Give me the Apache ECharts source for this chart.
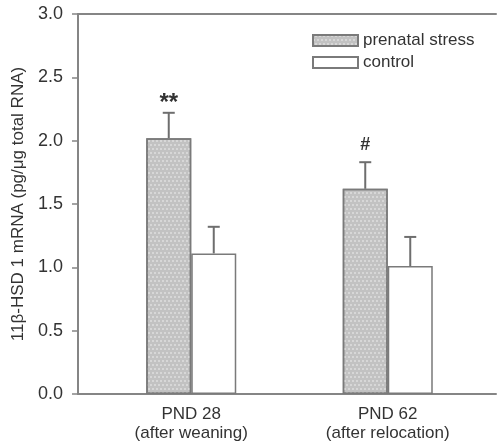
<!DOCTYPE html>
<html>
<head>
<meta charset="utf-8">
<script src="https://cdn.jsdelivr.net/npm/echarts@6/dist/echarts.min.js"></script>
<style>html,body{margin:0;padding:0;background:#fff}#c{width:500px;height:446px}</style>
</head>
<body>
<div id="c"></div>
<script>
// Data
const categories = ['PND 28\n(after weaning)', 'PND 62\n(after relocation)'];
const seriesNames = ['prenatal stress', 'control'];
const prenatalMean = [2.02, 1.62];
const prenatalErr = [0.20, 0.21];
const controlMean = [1.11, 1.01];
const controlErr = [0.21, 0.23];
const prenatalMarks = ['**', '#'];
const yTicks = [0, 0.5, 1.0, 1.5, 2.0, 2.5, 3.0];
const yAxisName = '11\u03b2-HSD 1 mRNA (pg/\u03bcg total RNA)';

const BAR_W = 45;
const axisColor = '#858585';
const font = 'Liberation Sans, Arial, sans-serif';

const chart = echarts.init(document.getElementById('c'), null, {renderer: 'canvas'});

function errSeries(name, means, errs, side, marks) {
  return {
    type: 'custom',
    name: name + ' err',
    xAxisIndex: 2, yAxisIndex: 1,
    data: means.map((m, i) => [i, m, errs[i]]),
    z: 5,
    renderItem: function (params, api) {
      const x = api.value(0), m = api.value(1), e = api.value(2);
      const mark = marks ? marks[params.dataIndex] : '';
      const p0 = api.coord([x, m]);
      const p1 = api.coord([x, m + e]);
      const cx = p0[0] + side * BAR_W / 2;
      const st = {stroke: '#6e6e6e', lineWidth: 2};
      const children = [
        {type: 'line', shape: {x1: cx, y1: p0[1], x2: cx, y2: p1[1]}, style: st},
        {type: 'line', shape: {x1: cx - 6, y1: p1[1], x2: cx + 6, y2: p1[1]}, style: st}
      ];
      if (mark) {
        const isStar = mark === '**';
        children.push({type: 'text', style: {text: mark, x: cx, y: isStar ? p1[1] - 9 : p1[1] - 8,
          align: 'center', verticalAlign: isStar ? 'middle' : 'bottom',
          fill: '#333', font: 'bold ' + (isStar ? 24 : 18) + 'px ' + font}});
      }
      return {type: 'group', children: children};
    }
  };
}

chart.setOption({
  animation: false,
  backgroundColor: '#fff',
  grid: [
    {left: 78, right: 4, top: 14, bottom: 52},
    {left: 93, right: 14, top: 14, bottom: 52}
  ],
  legend: {
    data: seriesNames,
    orient: 'vertical',
    left: 307, top: 27,
    icon: 'rect',
    itemWidth: 45, itemHeight: 11, itemGap: 5,
    textStyle: {fontSize: 17, color: '#333', fontFamily: font}
  },
  xAxis: [
    {type: 'category', gridIndex: 0, data: categories,
     axisLine: {show: true, lineStyle: {color: axisColor, width: 2}},
     axisTick: {show: false}, axisLabel: {show: false}, splitLine: {show: false}},
    {type: 'category', gridIndex: 0, position: 'top', data: categories,
     axisLine: {show: true, lineStyle: {color: axisColor, width: 2}},
     axisTick: {show: false}, axisLabel: {show: false}, splitLine: {show: false}},
    {type: 'category', gridIndex: 1, data: categories,
     axisLine: {show: false}, axisTick: {show: false}, splitLine: {show: false},
     axisLabel: {margin: 11, fontSize: 17, lineHeight: 19, color: '#333', fontFamily: font}}
  ],
  yAxis: [
    {type: 'value', gridIndex: 0, min: 0, max: 3, interval: 0.5,
     name: yAxisName, nameLocation: 'middle', nameGap: 47,
     nameTextStyle: {fontSize: 17, color: '#333', fontFamily: font},
     axisLine: {show: true, lineStyle: {color: axisColor, width: 2}},
     axisTick: {show: true, length: 6, inside: false, lineStyle: {color: axisColor, width: 1.5}},
     axisLabel: {fontSize: 18, color: '#333', margin: 15, fontFamily: font,
       formatter: v => (yTicks.indexOf(v) >= 0 ? v.toFixed(1) : '')},
     splitLine: {show: false}},
    {type: 'value', gridIndex: 1, min: 0, max: 3, interval: 0.5, show: false, splitLine: {show: false}}
  ],
  series: [
    {name: seriesNames[0], type: 'bar', xAxisIndex: 2, yAxisIndex: 1, data: prenatalMean,
     barWidth: BAR_W, barGap: '0%',
     itemStyle: {color: '#c2c2c2', borderColor: '#7a7a7a', borderWidth: 1.5,
       decal: {symbol: 'rect', symbolSize: 1, dashArrayX: [[2, 2], [0, 2, 2, 0]], dashArrayY: [2, 2], color: 'rgba(255,255,255,0.35)', rotation: 0}}},
    {name: seriesNames[1], type: 'bar', xAxisIndex: 2, yAxisIndex: 1, data: controlMean,
     barWidth: BAR_W, barGap: '0%',
     itemStyle: {color: '#ffffff', borderColor: '#7a7a7a', borderWidth: 1.5}},
    errSeries(seriesNames[0], prenatalMean, prenatalErr, -1, prenatalMarks),
    errSeries(seriesNames[1], controlMean, controlErr, 1, null)
  ]
});
</script>
</body>
</html>
